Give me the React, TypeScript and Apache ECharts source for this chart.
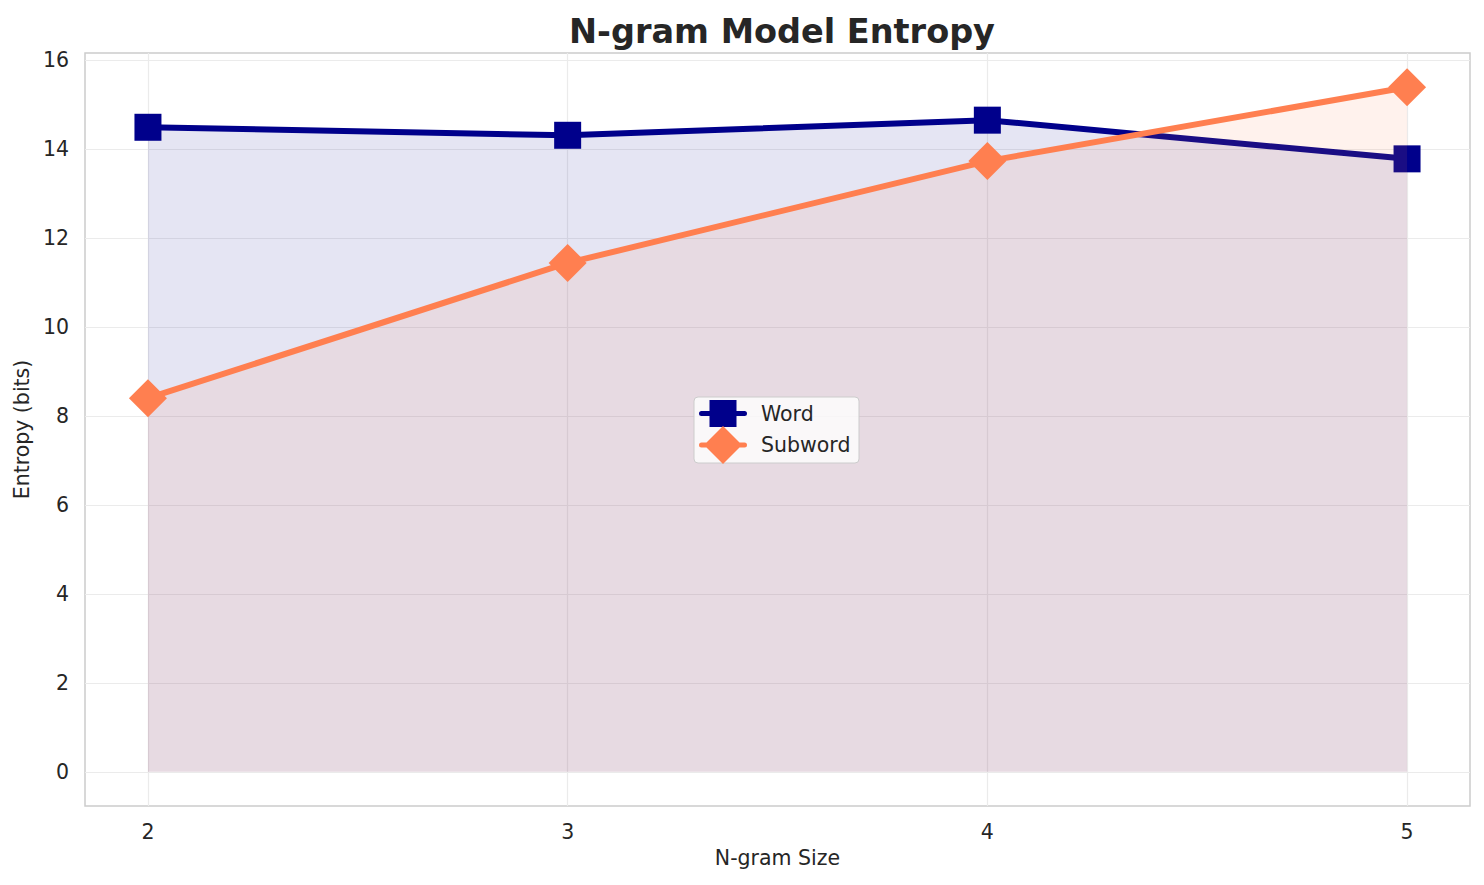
import React, { useEffect, useRef } from "react";
import * as echarts from "echarts";

const ngramSizes = [2, 3, 4, 5];
const wordEntropy = [14.49, 14.31, 14.65, 13.78];
const subwordEntropy = [8.4, 11.44, 13.73, 15.39];
const yTicks = [0, 2, 4, 6, 8, 10, 12, 14, 16];

const FONT = "DejaVu Sans";
const WORD_COLOR = "#00008b";
const SUB_COLOR = "#ff7f50";

// legend icons: thick line + marker, in a 48-wide box
const wordIcon =
  "path://M2.5,16 L45.5,16 A2.5,2.5 0 0 1 45.5,21 L2.5,21 A2.5,2.5 0 0 1 2.5,16 Z M10.5,5 L37.5,5 L37.5,32 L10.5,32 Z";
const subIcon =
  "path://M2.5,16.5 L45.5,16.5 A2.5,2.5 0 0 1 45.5,21.5 L2.5,21.5 A2.5,2.5 0 0 1 2.5,16.5 Z M24,0 L43,19 L24,38 L5,19 Z";

export default function App() {
  const ref = useRef<HTMLDivElement>(null);
  useEffect(() => {
    if (!ref.current) return;
    const chart = echarts.init(ref.current, null, { renderer: "svg" });
    chart.setOption({
      animation: false,
      backgroundColor: "#ffffff",
      title: {
        text: "N-gram Model Entropy",
        left: 777,
        textAlign: "center",
        top: 9,
        textStyle: { fontFamily: FONT, fontSize: 33.5, fontWeight: "bold", color: "#262626" },
      },
      graphic: [
        {
          type: "rect",
          z: 9,
          shape: { x: 694, y: 397, width: 165, height: 66, r: 4 },
          style: { fill: "rgba(255,255,255,0.8)", stroke: "#cccccc", lineWidth: 1 },
        },
      ],
      legend: {
        left: 699,
        top: 400,
        orient: "vertical",
        z: 10,
        itemWidth: 48,
        itemHeight: 38,
        itemGap: -1,
        padding: 0,
        symbolKeepAspect: true,
        textStyle: { fontFamily: FONT, fontSize: 20.5, color: "#262626", padding: [0, 0, 0, 9] },
        data: [
          { name: "Word", icon: wordIcon },
          { name: "Subword", icon: subIcon },
        ],
      },
      grid: {
        left: 85,
        right: 14,
        top: 53,
        bottom: 79,
        show: true,
        borderColor: "#cccccc",
        borderWidth: 1.5,
        backgroundColor: "#ffffff",
      },
      xAxis: {
        type: "value",
        min: 1.85,
        max: 5.15,
        name: "N-gram Size",
        nameLocation: "middle",
        nameGap: 41,
        nameTextStyle: { fontFamily: FONT, fontSize: 20.5, color: "#262626" },
        axisLine: { show: false },
        axisTick: { show: false, customValues: ngramSizes },
        axisLabel: {
          customValues: ngramSizes,
          fontFamily: FONT,
          fontSize: 20.5,
          color: "#262626",
          margin: 15,
        },
        splitLine: { show: true, lineStyle: { color: "#ebebeb", width: 1.2 } },
      },
      yAxis: {
        type: "value",
        min: -0.77,
        max: 16.16,
        name: "Entropy (bits)",
        nameLocation: "middle",
        nameGap: 51,
        nameTextStyle: { fontFamily: FONT, fontSize: 20.5, color: "#262626" },
        axisLine: { show: false },
        axisTick: { show: false, customValues: yTicks },
        axisLabel: {
          customValues: yTicks,
          fontFamily: FONT,
          fontSize: 20.5,
          color: "#262626",
          margin: 16,
        },
        splitLine: { show: true, lineStyle: { color: "#ebebeb", width: 1.2 } },
      },
      series: [
        {
          name: "Word",
          type: "line",
          data: ngramSizes.map((x, i) => [x, wordEntropy[i]]),
          symbol: "rect",
          symbolSize: 27,
          itemStyle: { color: WORD_COLOR },
          lineStyle: { color: WORD_COLOR, width: 6 },
          areaStyle: { color: "rgba(0,0,139,0.1)", opacity: 1, origin: 0 },
          z: 2,
        },
        {
          name: "Subword",
          type: "line",
          data: ngramSizes.map((x, i) => [x, subwordEntropy[i]]),
          symbol: "diamond",
          symbolSize: 38,
          itemStyle: { color: SUB_COLOR },
          lineStyle: { color: SUB_COLOR, width: 6 },
          areaStyle: { color: "rgba(255,127,80,0.1)", opacity: 1, origin: 0 },
          z: 3,
        },
      ],
    });
    return () => chart.dispose();
  }, []);
  return <div ref={ref} style={{ width: 1484, height: 885, position: "absolute", left: 0, top: 0 }} />;
}
